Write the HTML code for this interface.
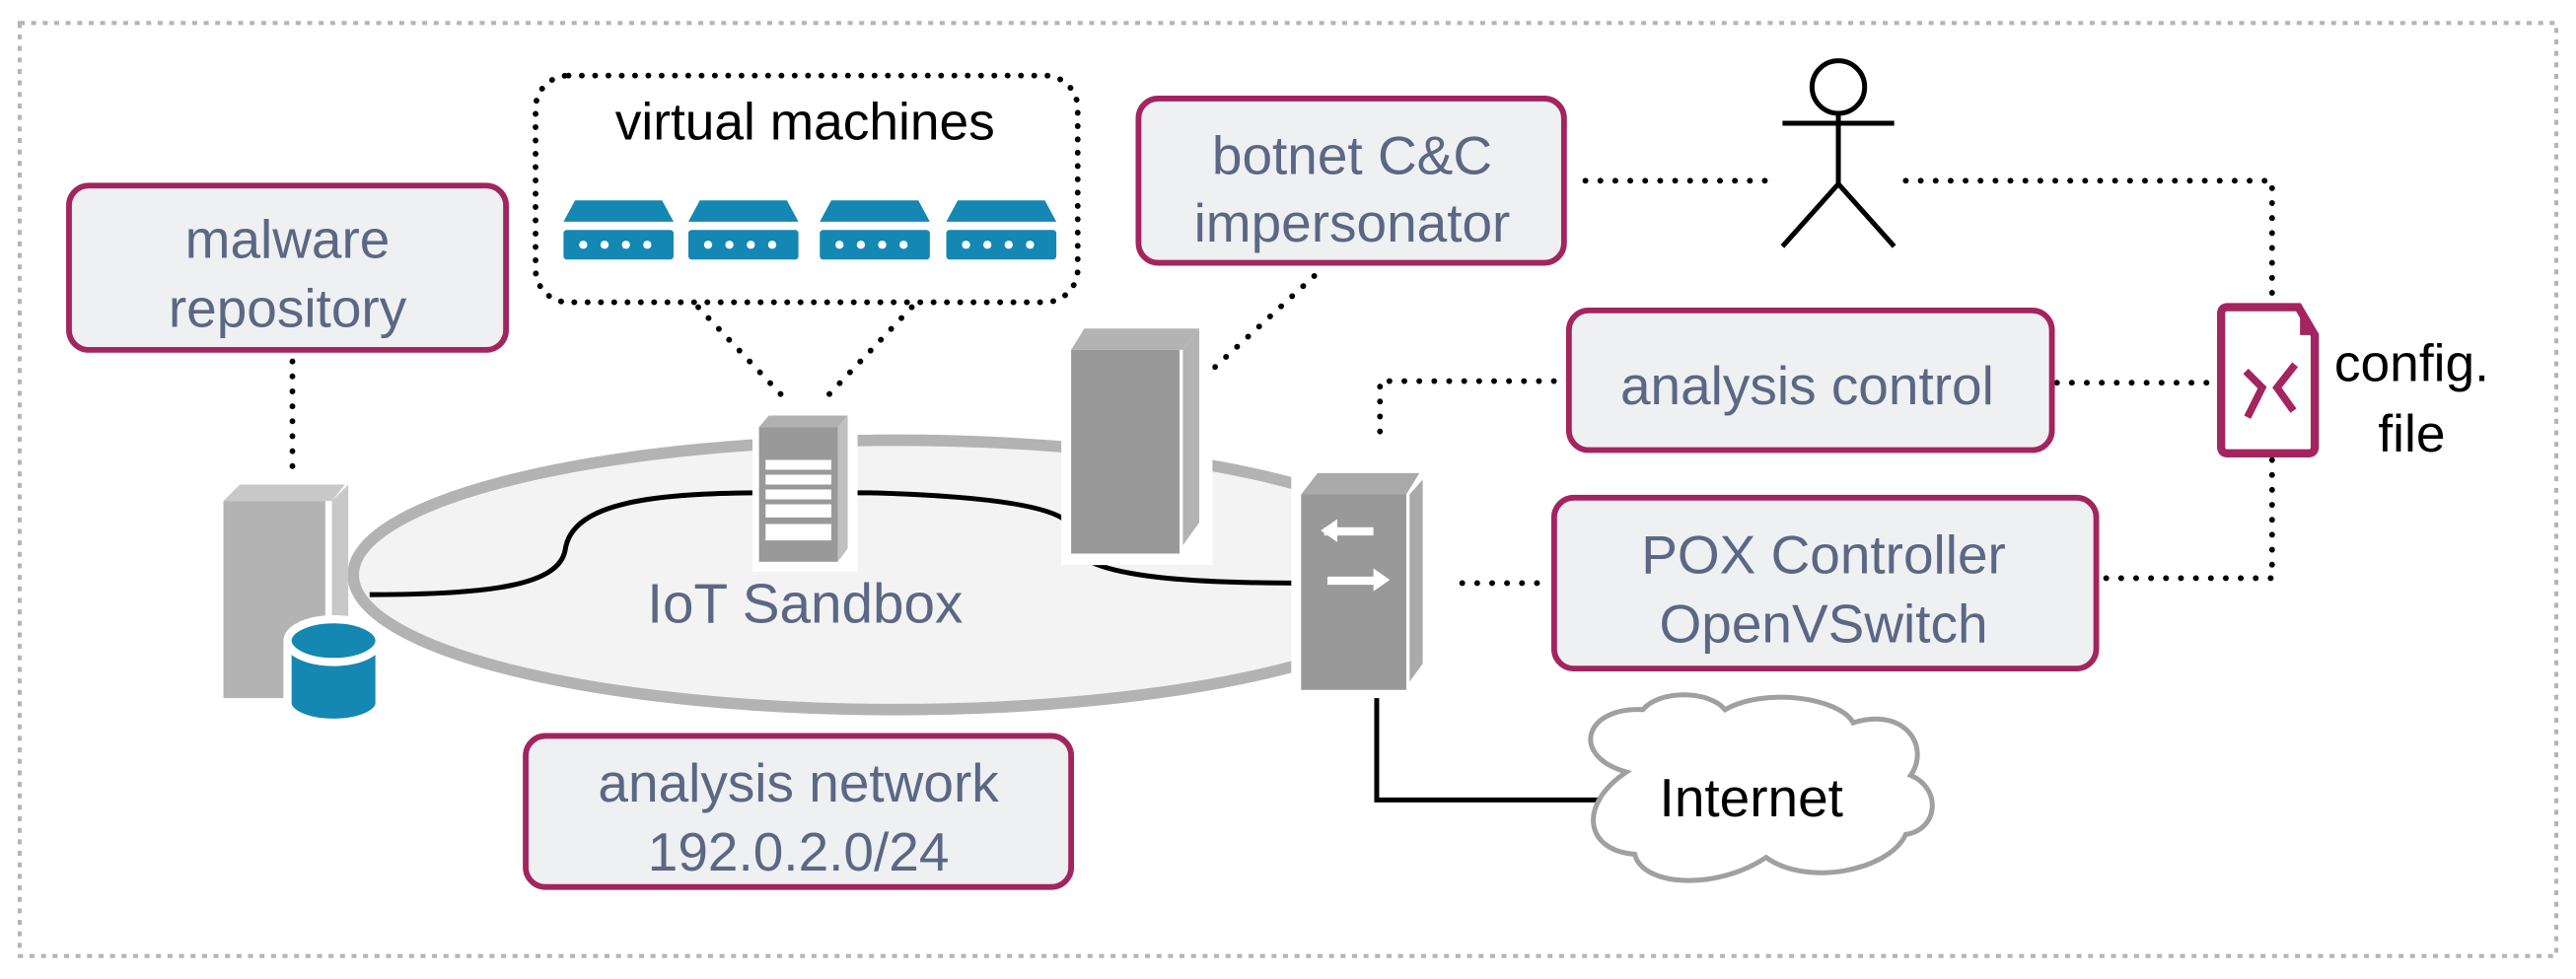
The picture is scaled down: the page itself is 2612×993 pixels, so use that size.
<!DOCTYPE html>
<html><head><meta charset="utf-8"><style>html,body{margin:0;padding:0;background:#fff}svg{display:block}</style></head>
<body>
<svg width="2612" height="993" viewBox="0 0 1568 596" preserveAspectRatio="none" xmlns="http://www.w3.org/2000/svg" font-family="Liberation Sans, sans-serif">
<rect x="12" y="14" width="1544" height="568" fill="none" stroke="#b5b5b5" stroke-width="2.5" stroke-dasharray="3 4"/>
<!-- ellipse network -->
<ellipse cx="545" cy="350" rx="330" ry="82" fill="#f3f3f3" stroke="#b3b3b3" stroke-width="7"/>
<path d="M225 362 C300 362 340 356 344 335 C348 305 400 300 470 300 L530 300 C600 302 640 308 650 318 M660 340 C680 352 730 355 795 355" fill="none" stroke="#000" stroke-width="3"/>
<text x="490" y="379" font-size="34" fill="#5b6785" text-anchor="middle">IoT Sandbox</text>
<g fill="none" stroke="#000" stroke-width="3.5" stroke-linecap="round" stroke-dasharray="0.1 9">
<path d="M178 220 V290"/>
<path d="M425 187 L480 245 M555 187 L500 245"/>
<path d="M800 168 L716 245"/>
<path d="M965 110 H1080 M1160 110 H1383 V185"/>
<path d="M1383 280 V352 H1278"/>
<path d="M955 232 H840 V270"/>
<path d="M1252 233 H1350"/>
<path d="M890 355 H940"/>
</g>
<!-- left server + db -->
<polygon points="146,295 210,295 202,305 136,305" fill="#c8c8c8"/>
<rect x="136" y="305" width="62" height="120" fill="#b3b3b3"/>
<polygon points="202,305 212,295 212,412 202,425" fill="#c8c8c8"/>
<g stroke="#fff" stroke-width="5">
<path d="M175 392 V428 A28 12 0 0 0 231 428 V392" fill="#1487b3"/>
<ellipse cx="203" cy="390" rx="28" ry="13" fill="#1487b3"/>
</g>
<!-- IoT sandbox server -->
<rect x="458" y="250" width="64" height="98" fill="#fff"/>
<polygon points="468,253 516,253 510,260 462,260" fill="#b0b0b0"/>
<rect x="462" y="260" width="48" height="82" fill="#999"/>
<polygon points="510,260 516,253 516,334 510,342" fill="#c0c0c0"/>
<g fill="#fff"><rect x="466" y="280" width="40" height="6"/><rect x="466" y="289" width="40" height="6"/><rect x="466" y="298" width="40" height="6"/><rect x="466" y="307" width="40" height="8"/><rect x="466" y="319" width="40" height="10"/></g>
<!-- tall server -->
<rect x="646" y="198" width="92" height="146" fill="#fff"/>
<polygon points="660,200 730,200 720,213 652,213" fill="#b3b3b3"/>
<rect x="652" y="213" width="66" height="124" fill="#999"/>
<polygon points="720,213 730,200 730,318 720,332" fill="#b3b3b3"/>
<!-- switch -->
<rect x="786" y="284" width="98" height="140" fill="#fff"/>
<polygon points="802,288 864,288 856,301 792,301" fill="#aaa"/>
<rect x="792" y="301" width="64" height="119" fill="#999"/>
<polygon points="858,301 866,292 866,404 858,415" fill="#aaa"/>
<g fill="#fff"><rect x="806" y="321" width="30" height="5"/><polygon points="804,323 814,316 814,330"/><rect x="808" y="351" width="30" height="5"/><polygon points="846,353 836,346 836,360"/></g>
<path d="M838 425 V487 H985" fill="none" stroke="#000" stroke-width="3"/>
<!-- cloud -->
<path d="M990 470 C955 460 965 430 1000 432 C1010 420 1040 420 1050 432 C1075 418 1120 425 1128 440 C1160 430 1175 455 1163 472 C1182 480 1180 505 1160 508 C1150 530 1100 540 1075 522 C1045 542 1000 540 995 520 C965 518 960 490 990 470 Z" fill="#fff" stroke="#a0a0a0" stroke-width="3"/>
<text x="1066" y="497" font-size="33" fill="#000" text-anchor="middle">Internet</text>
<!-- VM box -->
<rect x="326" y="46" width="330" height="138" rx="20" fill="#fff" stroke="#000" stroke-width="3.5" stroke-linecap="round" stroke-dasharray="0.1 8"/>
<text x="490" y="85" font-size="32" fill="#000" text-anchor="middle">virtual machines</text>
<g fill="#1487b3">
<g id="vm"><polygon points="350,122 403,122 410,135 343,135"/><rect x="343" y="140" width="67" height="18" rx="2"/></g>
<use href="#vm" x="76"/><use href="#vm" x="156"/><use href="#vm" x="233"/>
</g>
<g fill="#fff">
<circle cx="355" cy="149" r="2.5"/><circle cx="368" cy="149" r="2.5"/><circle cx="381" cy="149" r="2.5"/><circle cx="394" cy="149" r="2.5"/>
<circle cx="431" cy="149" r="2.5"/><circle cx="444" cy="149" r="2.5"/><circle cx="457" cy="149" r="2.5"/><circle cx="470" cy="149" r="2.5"/>
<circle cx="511" cy="149" r="2.5"/><circle cx="524" cy="149" r="2.5"/><circle cx="537" cy="149" r="2.5"/><circle cx="550" cy="149" r="2.5"/>
<circle cx="588" cy="149" r="2.5"/><circle cx="601" cy="149" r="2.5"/><circle cx="614" cy="149" r="2.5"/><circle cx="627" cy="149" r="2.5"/>
</g>
<!-- labeled boxes -->
<g fill="#eff0f2" stroke="#a3245e" stroke-width="3.5">
<rect x="42" y="113" width="266" height="100" rx="12"/>
<rect x="693" y="60" width="259" height="100" rx="12"/>
<rect x="955" y="189" width="294" height="85" rx="12"/>
<rect x="946" y="303" width="330" height="104" rx="12"/>
<rect x="320" y="448" width="332" height="92" rx="12"/>
</g>
<g font-size="33" fill="#5b6785" text-anchor="middle">
<text x="175" y="157">malware</text><text x="175" y="199">repository</text>
<text x="823" y="106">botnet C&amp;C</text><text x="823" y="147">impersonator</text>
<text x="1100" y="246">analysis control</text>
<text x="1110" y="349">POX Controller</text><text x="1110" y="391">OpenVSwitch</text>
<text x="486" y="488">analysis network</text><text x="486" y="530">192.0.2.0/24</text>
</g>
<!-- stick figure -->
<g fill="none" stroke="#000" stroke-width="3">
<circle cx="1119" cy="53" r="16"/>
<path d="M1119 69 V112 M1085 75 H1153 M1085 150 L1119 112 L1153 150"/>
</g>
<!-- config file -->
<path d="M1356 187 H1399 L1409 204 V272 Q1409 276 1405 276 H1356 Q1352 276 1352 272 V191 Q1352 187 1356 187 Z" fill="#fff" stroke="#a3245e" stroke-width="5"/>
<path d="M1400 187 L1409 204 H1400 Z" fill="#a3245e"/>
<g fill="none" stroke="#a3245e" stroke-width="4.5"><path d="M1367 226 L1377 236 L1368 254"/><path d="M1397 222 L1386 236 L1396 250"/></g>
<g font-size="32" fill="#000" text-anchor="middle"><text x="1468" y="232">config.</text><text x="1468" y="275">file</text></g>
</svg>
</body></html>
